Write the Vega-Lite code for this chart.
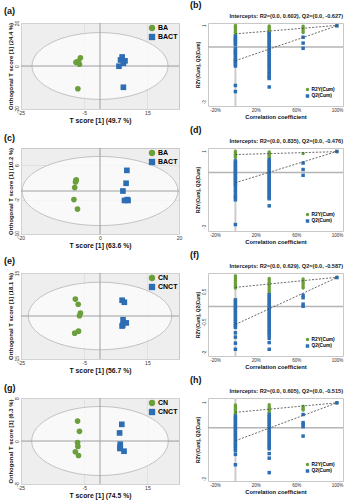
{
"$schema": "https://vega.github.io/schema/vega-lite/v6.json",
"background": "white",
"padding": {"left": 3, "top": 0, "right": 0, "bottom": 0},
"config": {
 "font": "Liberation Sans",
 "view": {"stroke": "#c8c8c8"},
 "axis": {"labelFontSize": 5, "labelColor": "#333", "titleFontWeight": "bold", "titleColor": "#111", "ticks": false, "domain": false, "labelPadding": 1.5, "titlePadding": 1.5, "gridColor": "#d8d8d8", "gridWidth": 0.6, "labelFlush": false, "labelOverlap": false},
 "axisY": {"labelAngle": 270, "labelAlign": "center", "labelBaseline": "bottom"},
 "title": {"fontSize": 9, "fontWeight": "bold", "anchor": "start", "frame": "bounds", "offset": 0, "color": "#111"},
 "legend": {"title": null, "padding": 0}
},
"datasets": {
 "sa": [{"x":-6.2,"y":3.8,"g":"BA"},{"x":-7.1,"y":2.1,"g":"BA"},{"x":-7.6,"y":1.7,"g":"BA"},{"x":-6.5,"y":0.8,"g":"BA"},{"x":-6.8,"y":2.0,"g":"BA"},{"x":-7.0,"y":-10.6,"g":"BA"},
  {"x":7.0,"y":4.2,"g":"BACT"},{"x":6.5,"y":2.8,"g":"BACT"},{"x":7.9,"y":2.4,"g":"BACT"},{"x":7.4,"y":1.3,"g":"BACT"},{"x":6.0,"y":-0.1,"g":"BACT"},{"x":7.4,"y":-9.9,"g":"BACT"}],
 "sc": [{"x":-6.0,"y":2.6,"g":"BA"},{"x":-6.2,"y":2.1,"g":"BA"},{"x":-6.1,"y":2.4,"g":"BA"},{"x":-6.4,"y":0.8,"g":"BA"},{"x":-6.6,"y":-2.0,"g":"BA"},{"x":-5.7,"y":-4.2,"g":"BA"},
  {"x":6.8,"y":4.8,"g":"BACT"},{"x":6.6,"y":1.8,"g":"BACT"},{"x":5.8,"y":0.0,"g":"BACT"},{"x":6.2,"y":-2.2,"g":"BACT"},{"x":6.9,"y":-2.0,"g":"BACT"},{"x":7.1,"y":-2.2,"g":"BACT"}],
 "se": [{"x":-7.8,"y":5.9,"g":"CN"},{"x":-6.9,"y":4.1,"g":"CN"},{"x":-6.2,"y":1.0,"g":"CN"},{"x":-6.5,"y":0.1,"g":"CN"},{"x":-6.8,"y":-5.3,"g":"CN"},{"x":-8.0,"y":-6.0,"g":"CN"},
  {"x":7.0,"y":5.5,"g":"CNCT"},{"x":7.7,"y":4.8,"g":"CNCT"},{"x":7.3,"y":-1.3,"g":"CNCT"},{"x":8.3,"y":-2.4,"g":"CNCT"},{"x":7.2,"y":-3.1,"g":"CNCT"},{"x":7.0,"y":-3.5,"g":"CNCT"}],
 "sg": [{"x":-7.1,"y":3.7,"g":"CN"},{"x":-6.5,"y":1.8,"g":"CN"},{"x":-7.1,"y":-0.3,"g":"CN"},{"x":-7.0,"y":-1.0,"g":"CN"},{"x":-7.8,"y":-2.0,"g":"CN"},{"x":-6.8,"y":-2.7,"g":"CN"},
  {"x":6.9,"y":3.1,"g":"CNCT"},{"x":6.2,"y":1.5,"g":"CNCT"},{"x":6.4,"y":-0.6,"g":"CNCT"},{"x":6.4,"y":-1.1,"g":"CNCT"},{"x":6.3,"y":-1.4,"g":"CNCT"},{"x":7.6,"y":-1.9,"g":"CNCT"}],
 "pb": [
  {"x":0,"y":0.99,"s":"R2Y(Cum)"},{"x":0,"y":0.93,"s":"R2Y(Cum)"},{"x":0,"y":0.88,"s":"R2Y(Cum)"},{"x":0,"y":0.82,"s":"R2Y(Cum)"},{"x":0,"y":0.77,"s":"R2Y(Cum)"},{"x":0,"y":0.71,"s":"R2Y(Cum)"},{"x":0,"y":0.66,"s":"R2Y(Cum)"},{"x":0,"y":0.6,"s":"R2Y(Cum)"},{"x":0,"y":0.56,"s":"R2Y(Cum)"},
  {"x":0.333,"y":0.96,"s":"R2Y(Cum)"},{"x":0.333,"y":0.9,"s":"R2Y(Cum)"},{"x":0.333,"y":0.85,"s":"R2Y(Cum)"},{"x":0.333,"y":0.79,"s":"R2Y(Cum)"},{"x":0.333,"y":0.74,"s":"R2Y(Cum)"},{"x":0.333,"y":0.68,"s":"R2Y(Cum)"},{"x":0.333,"y":0.63,"s":"R2Y(Cum)"},{"x":0.333,"y":0.58,"s":"R2Y(Cum)"},
  {"x":0.667,"y":0.95,"s":"R2Y(Cum)"},{"x":0.667,"y":0.88,"s":"R2Y(Cum)"},{"x":0.667,"y":0.8,"s":"R2Y(Cum)"},{"x":0.667,"y":0.72,"s":"R2Y(Cum)"},{"x":0.667,"y":0.66,"s":"R2Y(Cum)"},
  {"x":1,"y":0.99,"s":"R2Y(Cum)"},
  {"x":0,"y":0.49,"s":"Q2(Cum)"},{"x":0,"y":0.41,"s":"Q2(Cum)"},{"x":0,"y":0.33,"s":"Q2(Cum)"},{"x":0,"y":0.26,"s":"Q2(Cum)"},{"x":0,"y":0.18,"s":"Q2(Cum)"},{"x":0,"y":0.1,"s":"Q2(Cum)"},{"x":0,"y":-0.08,"s":"Q2(Cum)"},{"x":0,"y":-0.16,"s":"Q2(Cum)"},{"x":0,"y":-0.24,"s":"Q2(Cum)"},{"x":0,"y":-0.31,"s":"Q2(Cum)"},{"x":0,"y":-0.38,"s":"Q2(Cum)"},{"x":0,"y":-0.5,"s":"Q2(Cum)"},{"x":0,"y":-0.57,"s":"Q2(Cum)"},{"x":0,"y":-0.64,"s":"Q2(Cum)"},{"x":0,"y":-0.71,"s":"Q2(Cum)"},{"x":0,"y":-0.79,"s":"Q2(Cum)"},{"x":0,"y":-0.87,"s":"Q2(Cum)"},{"x":0,"y":-1.76,"s":"Q2(Cum)"},{"x":0,"y":-2.04,"s":"Q2(Cum)"},
  {"x":0.333,"y":0.61,"s":"Q2(Cum)"},{"x":0.333,"y":0.52,"s":"Q2(Cum)"},{"x":0.333,"y":0.44,"s":"Q2(Cum)"},{"x":0.333,"y":0.35,"s":"Q2(Cum)"},{"x":0.333,"y":0.27,"s":"Q2(Cum)"},{"x":0.333,"y":0.18,"s":"Q2(Cum)"},{"x":0.333,"y":0.1,"s":"Q2(Cum)"},{"x":0.333,"y":0.01,"s":"Q2(Cum)"},{"x":0.333,"y":-0.08,"s":"Q2(Cum)"},{"x":0.333,"y":-0.17,"s":"Q2(Cum)"},{"x":0.333,"y":-0.25,"s":"Q2(Cum)"},{"x":0.333,"y":-0.34,"s":"Q2(Cum)"},{"x":0.333,"y":-0.43,"s":"Q2(Cum)"},{"x":0.333,"y":-0.51,"s":"Q2(Cum)"},{"x":0.333,"y":-0.6,"s":"Q2(Cum)"},{"x":0.333,"y":-0.69,"s":"Q2(Cum)"},{"x":0.333,"y":-0.78,"s":"Q2(Cum)"},{"x":0.333,"y":-0.86,"s":"Q2(Cum)"},{"x":0.333,"y":-0.95,"s":"Q2(Cum)"},{"x":0.333,"y":-1.04,"s":"Q2(Cum)"},{"x":0.333,"y":-1.13,"s":"Q2(Cum)"},{"x":0.333,"y":-1.22,"s":"Q2(Cum)"},{"x":0.333,"y":-1.31,"s":"Q2(Cum)"},{"x":0.333,"y":-1.38,"s":"Q2(Cum)"},{"x":0.333,"y":-1.44,"s":"Q2(Cum)"},{"x":0.333,"y":-1.83,"s":"Q2(Cum)"},
  {"x":0.667,"y":0.45,"s":"Q2(Cum)"},{"x":0.667,"y":0.18,"s":"Q2(Cum)"},{"x":0.667,"y":-0.06,"s":"Q2(Cum)"},
  {"x":1,"y":0.97,"s":"Q2(Cum)"}],
 "pd": [
  {"x":0,"y":0.98,"s":"R2Y(Cum)"},{"x":0,"y":0.93,"s":"R2Y(Cum)"},{"x":0,"y":0.88,"s":"R2Y(Cum)"},{"x":0,"y":0.83,"s":"R2Y(Cum)"},{"x":0,"y":0.78,"s":"R2Y(Cum)"},{"x":0,"y":0.74,"s":"R2Y(Cum)"},{"x":0,"y":0.7,"s":"R2Y(Cum)"},
  {"x":0.333,"y":0.96,"s":"R2Y(Cum)"},{"x":0.333,"y":0.9,"s":"R2Y(Cum)"},{"x":0.333,"y":0.85,"s":"R2Y(Cum)"},{"x":0.333,"y":0.8,"s":"R2Y(Cum)"},{"x":0.333,"y":0.75,"s":"R2Y(Cum)"},{"x":0.333,"y":0.7,"s":"R2Y(Cum)"},
  {"x":0.667,"y":0.88,"s":"R2Y(Cum)"},
  {"x":1,"y":0.97,"s":"R2Y(Cum)"},
  {"x":0,"y":0.54,"s":"Q2(Cum)"},{"x":0,"y":0.46,"s":"Q2(Cum)"},{"x":0,"y":0.38,"s":"Q2(Cum)"},{"x":0,"y":0.3,"s":"Q2(Cum)"},{"x":0,"y":0.22,"s":"Q2(Cum)"},{"x":0,"y":0.14,"s":"Q2(Cum)"},{"x":0,"y":0.06,"s":"Q2(Cum)"},{"x":0,"y":-0.02,"s":"Q2(Cum)"},{"x":0,"y":-0.1,"s":"Q2(Cum)"},{"x":0,"y":-0.18,"s":"Q2(Cum)"},{"x":0,"y":-0.26,"s":"Q2(Cum)"},{"x":0,"y":-0.34,"s":"Q2(Cum)"},{"x":0,"y":-0.42,"s":"Q2(Cum)"},{"x":0,"y":-0.5,"s":"Q2(Cum)"},{"x":0,"y":-0.58,"s":"Q2(Cum)"},{"x":0,"y":-0.66,"s":"Q2(Cum)"},{"x":0,"y":-0.8,"s":"Q2(Cum)"},{"x":0,"y":-0.92,"s":"Q2(Cum)"},{"x":0,"y":-1.08,"s":"Q2(Cum)"},{"x":0,"y":-1.15,"s":"Q2(Cum)"},{"x":0,"y":-1.27,"s":"Q2(Cum)"},{"x":0,"y":-2.42,"s":"Q2(Cum)"},
  {"x":0.333,"y":0.6,"s":"Q2(Cum)"},{"x":0.333,"y":0.52,"s":"Q2(Cum)"},{"x":0.333,"y":0.44,"s":"Q2(Cum)"},{"x":0.333,"y":0.36,"s":"Q2(Cum)"},{"x":0.333,"y":0.28,"s":"Q2(Cum)"},{"x":0.333,"y":0.2,"s":"Q2(Cum)"},{"x":0.333,"y":0.12,"s":"Q2(Cum)"},{"x":0.333,"y":0.04,"s":"Q2(Cum)"},{"x":0.333,"y":-0.04,"s":"Q2(Cum)"},{"x":0.333,"y":-0.12,"s":"Q2(Cum)"},{"x":0.333,"y":-0.2,"s":"Q2(Cum)"},{"x":0.333,"y":-0.28,"s":"Q2(Cum)"},{"x":0.333,"y":-0.36,"s":"Q2(Cum)"},{"x":0.333,"y":-0.44,"s":"Q2(Cum)"},{"x":0.333,"y":-0.52,"s":"Q2(Cum)"},{"x":0.333,"y":-0.6,"s":"Q2(Cum)"},{"x":0.333,"y":-0.68,"s":"Q2(Cum)"},{"x":0.333,"y":-0.76,"s":"Q2(Cum)"},{"x":0.333,"y":-0.84,"s":"Q2(Cum)"},{"x":0.333,"y":-0.92,"s":"Q2(Cum)"},{"x":0.333,"y":-1.0,"s":"Q2(Cum)"},{"x":0.333,"y":-1.08,"s":"Q2(Cum)"},{"x":0.333,"y":-1.16,"s":"Q2(Cum)"},{"x":0.333,"y":-1.22,"s":"Q2(Cum)"},{"x":0.333,"y":-1.55,"s":"Q2(Cum)"},
  {"x":0.667,"y":0.44,"s":"Q2(Cum)"},{"x":0.667,"y":0.14,"s":"Q2(Cum)"},{"x":0.667,"y":-0.13,"s":"Q2(Cum)"},
  {"x":1,"y":0.98,"s":"Q2(Cum)"}],
 "pf": [
  {"x":0,"y":1.0,"s":"R2Y(Cum)"},{"x":0,"y":0.95,"s":"R2Y(Cum)"},{"x":0,"y":0.9,"s":"R2Y(Cum)"},{"x":0,"y":0.85,"s":"R2Y(Cum)"},{"x":0,"y":0.8,"s":"R2Y(Cum)"},{"x":0,"y":0.75,"s":"R2Y(Cum)"},{"x":0,"y":0.7,"s":"R2Y(Cum)"},{"x":0,"y":0.65,"s":"R2Y(Cum)"},{"x":0,"y":0.61,"s":"R2Y(Cum)"},
  {"x":0.333,"y":0.92,"s":"R2Y(Cum)"},{"x":0.333,"y":0.86,"s":"R2Y(Cum)"},{"x":0.333,"y":0.8,"s":"R2Y(Cum)"},{"x":0.333,"y":0.74,"s":"R2Y(Cum)"},{"x":0.333,"y":0.68,"s":"R2Y(Cum)"},{"x":0.333,"y":0.62,"s":"R2Y(Cum)"},{"x":0.333,"y":0.56,"s":"R2Y(Cum)"},{"x":0.333,"y":0.5,"s":"R2Y(Cum)"},{"x":0.333,"y":0.44,"s":"R2Y(Cum)"},
  {"x":0.667,"y":0.9,"s":"R2Y(Cum)"},{"x":0.667,"y":0.84,"s":"R2Y(Cum)"},{"x":0.667,"y":0.78,"s":"R2Y(Cum)"},{"x":0.667,"y":0.72,"s":"R2Y(Cum)"},{"x":0.667,"y":0.66,"s":"R2Y(Cum)"},{"x":0.667,"y":0.61,"s":"R2Y(Cum)"},
  {"x":1,"y":0.96,"s":"R2Y(Cum)"},
  {"x":0,"y":0.22,"s":"Q2(Cum)"},{"x":0,"y":0.15,"s":"Q2(Cum)"},{"x":0,"y":0.08,"s":"Q2(Cum)"},{"x":0,"y":0.01,"s":"Q2(Cum)"},{"x":0,"y":-0.06,"s":"Q2(Cum)"},{"x":0,"y":-0.13,"s":"Q2(Cum)"},{"x":0,"y":-0.2,"s":"Q2(Cum)"},{"x":0,"y":-0.27,"s":"Q2(Cum)"},{"x":0,"y":-0.34,"s":"Q2(Cum)"},{"x":0,"y":-0.41,"s":"Q2(Cum)"},{"x":0,"y":-0.48,"s":"Q2(Cum)"},{"x":0,"y":-0.55,"s":"Q2(Cum)"},{"x":0,"y":-0.62,"s":"Q2(Cum)"},{"x":0,"y":-0.68,"s":"Q2(Cum)"},{"x":0,"y":-0.86,"s":"Q2(Cum)"},{"x":0,"y":-1.0,"s":"Q2(Cum)"},{"x":0,"y":-1.2,"s":"Q2(Cum)"},{"x":0,"y":-1.4,"s":"Q2(Cum)"},
  {"x":0.333,"y":0.39,"s":"Q2(Cum)"},{"x":0.333,"y":0.32,"s":"Q2(Cum)"},{"x":0.333,"y":0.25,"s":"Q2(Cum)"},{"x":0.333,"y":0.18,"s":"Q2(Cum)"},{"x":0.333,"y":0.11,"s":"Q2(Cum)"},{"x":0.333,"y":0.04,"s":"Q2(Cum)"},{"x":0.333,"y":-0.03,"s":"Q2(Cum)"},{"x":0.333,"y":-0.1,"s":"Q2(Cum)"},{"x":0.333,"y":-0.17,"s":"Q2(Cum)"},{"x":0.333,"y":-0.24,"s":"Q2(Cum)"},{"x":0.333,"y":-0.31,"s":"Q2(Cum)"},{"x":0.333,"y":-0.38,"s":"Q2(Cum)"},{"x":0.333,"y":-0.45,"s":"Q2(Cum)"},{"x":0.333,"y":-0.52,"s":"Q2(Cum)"},{"x":0.333,"y":-0.59,"s":"Q2(Cum)"},{"x":0.333,"y":-0.66,"s":"Q2(Cum)"},{"x":0.333,"y":-0.73,"s":"Q2(Cum)"},{"x":0.333,"y":-0.8,"s":"Q2(Cum)"},{"x":0.333,"y":-0.87,"s":"Q2(Cum)"},{"x":0.333,"y":-0.94,"s":"Q2(Cum)"},{"x":0.333,"y":-1.04,"s":"Q2(Cum)"},{"x":0.333,"y":-1.18,"s":"Q2(Cum)"},{"x":0.333,"y":-1.4,"s":"Q2(Cum)"},
  {"x":0.667,"y":0.37,"s":"Q2(Cum)"},{"x":0.667,"y":0.29,"s":"Q2(Cum)"},{"x":0.667,"y":0.08,"s":"Q2(Cum)"},{"x":0.667,"y":0.01,"s":"Q2(Cum)"},
  {"x":1,"y":0.95,"s":"Q2(Cum)"}],
 "ph": [
  {"x":0,"y":0.89,"s":"R2Y(Cum)"},{"x":0,"y":0.84,"s":"R2Y(Cum)"},{"x":0,"y":0.78,"s":"R2Y(Cum)"},{"x":0,"y":0.73,"s":"R2Y(Cum)"},{"x":0,"y":0.67,"s":"R2Y(Cum)"},{"x":0,"y":0.62,"s":"R2Y(Cum)"},{"x":0,"y":0.57,"s":"R2Y(Cum)"},{"x":0,"y":0.52,"s":"R2Y(Cum)"},
  {"x":0.333,"y":0.9,"s":"R2Y(Cum)"},{"x":0.333,"y":0.84,"s":"R2Y(Cum)"},{"x":0.333,"y":0.78,"s":"R2Y(Cum)"},{"x":0.333,"y":0.72,"s":"R2Y(Cum)"},{"x":0.333,"y":0.66,"s":"R2Y(Cum)"},{"x":0.333,"y":0.6,"s":"R2Y(Cum)"},
  {"x":0.667,"y":0.85,"s":"R2Y(Cum)"},{"x":0.667,"y":0.79,"s":"R2Y(Cum)"},{"x":0.667,"y":0.74,"s":"R2Y(Cum)"},{"x":0.667,"y":0.7,"s":"R2Y(Cum)"},
  {"x":1,"y":0.98,"s":"R2Y(Cum)"},
  {"x":0,"y":0.46,"s":"Q2(Cum)"},{"x":0,"y":0.38,"s":"Q2(Cum)"},{"x":0,"y":0.3,"s":"Q2(Cum)"},{"x":0,"y":0.22,"s":"Q2(Cum)"},{"x":0,"y":0.14,"s":"Q2(Cum)"},{"x":0,"y":0.06,"s":"Q2(Cum)"},{"x":0,"y":-0.02,"s":"Q2(Cum)"},{"x":0,"y":-0.1,"s":"Q2(Cum)"},{"x":0,"y":-0.18,"s":"Q2(Cum)"},{"x":0,"y":-0.26,"s":"Q2(Cum)"},{"x":0,"y":-0.34,"s":"Q2(Cum)"},{"x":0,"y":-0.42,"s":"Q2(Cum)"},{"x":0,"y":-0.5,"s":"Q2(Cum)"},{"x":0,"y":-0.58,"s":"Q2(Cum)"},{"x":0,"y":-0.66,"s":"Q2(Cum)"},{"x":0,"y":-0.74,"s":"Q2(Cum)"},{"x":0,"y":-0.82,"s":"Q2(Cum)"},{"x":0,"y":-0.9,"s":"Q2(Cum)"},{"x":0,"y":-1.05,"s":"Q2(Cum)"},{"x":0,"y":-1.46,"s":"Q2(Cum)"},
  {"x":0.333,"y":0.52,"s":"Q2(Cum)"},{"x":0.333,"y":0.44,"s":"Q2(Cum)"},{"x":0.333,"y":0.36,"s":"Q2(Cum)"},{"x":0.333,"y":0.28,"s":"Q2(Cum)"},{"x":0.333,"y":0.2,"s":"Q2(Cum)"},{"x":0.333,"y":0.12,"s":"Q2(Cum)"},{"x":0.333,"y":0.04,"s":"Q2(Cum)"},{"x":0.333,"y":-0.04,"s":"Q2(Cum)"},{"x":0.333,"y":-0.12,"s":"Q2(Cum)"},{"x":0.333,"y":-0.2,"s":"Q2(Cum)"},{"x":0.333,"y":-0.28,"s":"Q2(Cum)"},{"x":0.333,"y":-0.36,"s":"Q2(Cum)"},{"x":0.333,"y":-0.44,"s":"Q2(Cum)"},{"x":0.333,"y":-0.52,"s":"Q2(Cum)"},{"x":0.333,"y":-0.6,"s":"Q2(Cum)"},{"x":0.333,"y":-0.68,"s":"Q2(Cum)"},{"x":0.333,"y":-0.76,"s":"Q2(Cum)"},{"x":0.333,"y":-0.83,"s":"Q2(Cum)"},{"x":0.333,"y":-1.02,"s":"Q2(Cum)"},{"x":0.333,"y":-1.2,"s":"Q2(Cum)"},{"x":0.333,"y":-1.77,"s":"Q2(Cum)"},
  {"x":0.667,"y":0.52,"s":"Q2(Cum)"},{"x":0.667,"y":0.2,"s":"Q2(Cum)"},{"x":0.667,"y":0.12,"s":"Q2(Cum)"},{"x":0.667,"y":0.04,"s":"Q2(Cum)"},{"x":0.667,"y":-0.33,"s":"Q2(Cum)"},
  {"x":1,"y":0.98,"s":"Q2(Cum)"}]
},
"spacing": 0,
"resolve": {"scale": {"color": "independent", "shape": "independent"}, "legend": {"color": "independent", "shape": "independent"}},
"vconcat": [
 {"hconcat": [
  {"width": 158, "height": 86, "title": {"text": "(a)", "dx": -3}, "view": {"fill": "#eeeeee", "stroke": "#c8c8c8"},
   "layer": [
    {"data": {"values": [{"x": 0, "y": 0}]},
     "mark": {"type": "point", "shape": "M-10,0C-10,-2.715 -5.523,-4.91 0,-4.91C5.523,-4.91 10,-2.715 10,0C10,2.715 5.523,4.91 0,4.91C-5.523,4.91 -10,2.715 -10,0Z", "size": 184.96, "filled": true, "fill": "#ffffff", "fillOpacity": 0.65, "stroke": "#c2c2c2", "strokeWidth": 1, "opacity": 1},
     "encoding": {
      "x": {"field": "x", "type": "quantitative", "scale": {"domain": [-25, 25], "nice": false, "zero": false}, "axis": {"title": "T score [1] (49.7 %)", "titleFontSize": 6.8, "labelOverlap": false, "labelFlush": false, "values": [-25,-20,-15,-10,-5,0,5,10,15,20,25], "labelExpr": "replace(datum.label, '−', '-')"}},
      "y": {"field": "y", "type": "quantitative", "scale": {"domain": [-20, 20], "nice": false, "zero": false}, "axis": {"title": "Orthogonal T score [1] (24.4 %)", "titleFontSize": 5.9, "labelOverlap": false, "labelFlush": false, "values": [-20,-15,-10,-5,0,5,10,15,20], "labelExpr": "replace(datum.label, '−', '-')"}}}},
    {"data": {"values": [{}]}, "mark": {"type": "rule", "color": "#a0a0a0", "strokeWidth": 1}, "encoding": {"x": {"datum": 0}}},
    {"data": {"values": [{}]}, "mark": {"type": "rule", "color": "#a0a0a0", "strokeWidth": 1}, "encoding": {"y": {"datum": 0}}},
    {"data": {"name": "sa"}, "mark": {"type": "point", "filled": true, "opacity": 1, "size": 32},
     "encoding": {"x": {"field": "x", "type": "quantitative"}, "y": {"field": "y", "type": "quantitative"},
      "color": {"field": "g", "type": "nominal", "scale": {"domain": ["BA", "BACT"], "range": ["#6b9f3b", "#2d6db3"]}, "legend": {"orient": "top-right", "offset": 1, "labelFontSize": 7, "labelFontWeight": "bold", "symbolSize": 40, "rowPadding": 1, "labelOffset": 2}},
      "shape": {"field": "g", "type": "nominal", "scale": {"domain": ["BA", "BACT"], "range": ["circle", "square"]}}}}
   ]},
  {"width": 135, "height": 83, "title": {"text": "(b)", "dx": -5}, "view": {"stroke": "#c8c8c8"},
   "layer": [
    {"data": {"values": [{}]}, "mark": {"type": "rule", "color": "#cccccc", "strokeWidth": 2}, "encoding": {"x": {"datum": 0}}},
    {"data": {"values": [{}]}, "mark": {"type": "rule", "color": "#b4b4b4", "strokeWidth": 1.5}, "encoding": {"y": {"datum": 0}}},
    {"data": {"name": "pb"}, "mark": {"type": "point", "filled": true, "opacity": 1, "size": 12},
     "encoding": {
      "x": {"field": "x", "type": "quantitative", "scale": {"domain": [-0.27, 1.06], "nice": false, "zero": false}, "axis": {"title": "Correlation coefficient", "titleFontSize": 5.8, "labelFontSize": 4.5, "labelOverlap": false, "labelFlush": false, "gridColor": "#e6e6e6", "values": [-0.2,0,0.2,0.4,0.6,0.8,1], "format": ".0%", "labelExpr": "replace(datum.label, '−', '-')"}},
      "y": {"field": "y", "type": "quantitative", "scale": {"domain": [-2.7, 1.1], "nice": false, "zero": false}, "axis": {"title": "R2Y(Cum), Q2(Cum)", "titleFontSize": 4.8, "labelFontSize": 4.5, "labelOverlap": false, "labelFlush": false, "gridColor": "#e6e6e6", "values": [1,0.5,0,-0.5,-1,-1.5,-2,-2.5], "format": "~g", "labelExpr": "replace(datum.label, '−', '-')"}},
      "color": {"field": "s", "type": "nominal", "scale": {"domain": ["R2Y(Cum)", "Q2(Cum)"], "range": ["#6b9f3b", "#2d6db3"]}, "legend": {"orient": "bottom-right", "offset": 8, "labelFontSize": 4.8, "labelFontWeight": "bold", "symbolSize": 12, "rowPadding": 0.5, "labelOffset": 1.5}},
      "shape": {"field": "s", "type": "nominal", "scale": {"domain": ["R2Y(Cum)", "Q2(Cum)"], "range": ["circle", "square"]}}}},
    {"data": {"values": [{"x":0,"y":0.602,"k":"R"},{"x":1,"y":0.99,"k":"R"},{"x":0,"y":-0.627,"k":"Q"},{"x":1,"y":0.97,"k":"Q"}]},
     "mark": {"type": "line", "color": "#444444", "strokeWidth": 0.8, "strokeDash": [2, 1.5]},
     "encoding": {"x": {"field": "x", "type": "quantitative"}, "y": {"field": "y", "type": "quantitative"}, "detail": {"field": "k"}}},
    {"data": {"values": [{"t": "Intercepts: R2=(0.0, 0.602), Q2=(0.0, -0.627)"}]},
     "mark": {"type": "text", "align": "right", "baseline": "middle", "fontSize": 5.6, "fontWeight": "bold", "color": "#222222"},
     "encoding": {"x": {"datum": 1.06}, "y": {"datum": 1.41}, "text": {"field": "t"}}}
   ]}
 ], "spacing": 29, "bounds": "flush", "resolve": {"scale": {"color": "independent", "shape": "independent"}, "legend": {"color": "independent", "shape": "independent"}}},
 {"hconcat": [
  {"width": 158, "height": 86, "title": {"text": "(c)", "dx": -3}, "view": {"fill": "#eeeeee", "stroke": "#c8c8c8"},
   "layer": [
    {"data": {"values": [{"x": 0, "y": 0}]},
     "mark": {"type": "point", "shape": "M-10,0C-10,-2.449 -5.523,-4.43 0,-4.43C5.523,-4.43 10,-2.449 10,0C10,2.449 5.523,4.43 0,4.43C-5.523,4.43 -10,2.449 -10,0Z", "size": 243.36, "filled": true, "fill": "#ffffff", "fillOpacity": 0.65, "stroke": "#c2c2c2", "strokeWidth": 1, "opacity": 1},
     "encoding": {
      "x": {"field": "x", "type": "quantitative", "scale": {"domain": [-20, 20], "nice": false, "zero": false}, "axis": {"title": "T score [1] (63.6 %)", "titleFontSize": 6.8, "labelOverlap": false, "labelFlush": false, "values": [-20,-15,-10,-5,0,5,10,15,20], "labelExpr": "replace(datum.label, '−', '-')"}},
      "y": {"field": "y", "type": "quantitative", "scale": {"domain": [-10, 10], "nice": false, "zero": false}, "axis": {"title": "Orthogonal T score [1] (10.2 %)", "titleFontSize": 5.9, "labelOverlap": false, "labelFlush": false, "values": [-10,-8,-6,-4,-2,0,2,4,6,8,10], "labelExpr": "replace(datum.label, '−', '-')"}}}},
    {"data": {"values": [{}]}, "mark": {"type": "rule", "color": "#a0a0a0", "strokeWidth": 1}, "encoding": {"x": {"datum": 0}}},
    {"data": {"values": [{}]}, "mark": {"type": "rule", "color": "#a0a0a0", "strokeWidth": 1}, "encoding": {"y": {"datum": 0}}},
    {"data": {"name": "sc"}, "mark": {"type": "point", "filled": true, "opacity": 1, "size": 32},
     "encoding": {"x": {"field": "x", "type": "quantitative"}, "y": {"field": "y", "type": "quantitative"},
      "color": {"field": "g", "type": "nominal", "scale": {"domain": ["BA", "BACT"], "range": ["#6b9f3b", "#2d6db3"]}, "legend": {"orient": "top-right", "offset": 1, "labelFontSize": 7, "labelFontWeight": "bold", "symbolSize": 40, "rowPadding": 1, "labelOffset": 2}},
      "shape": {"field": "g", "type": "nominal", "scale": {"domain": ["BA", "BACT"], "range": ["circle", "square"]}}}}
   ]},
  {"width": 135, "height": 83, "title": {"text": "(d)", "dx": -5}, "view": {"stroke": "#c8c8c8"},
   "layer": [
    {"data": {"values": [{}]}, "mark": {"type": "rule", "color": "#cccccc", "strokeWidth": 2}, "encoding": {"x": {"datum": 0}}},
    {"data": {"values": [{}]}, "mark": {"type": "rule", "color": "#b4b4b4", "strokeWidth": 1.5}, "encoding": {"y": {"datum": 0}}},
    {"data": {"name": "pd"}, "mark": {"type": "point", "filled": true, "opacity": 1, "size": 12},
     "encoding": {
      "x": {"field": "x", "type": "quantitative", "scale": {"domain": [-0.27, 1.06], "nice": false, "zero": false}, "axis": {"title": "Correlation coefficient", "titleFontSize": 5.8, "labelFontSize": 4.5, "labelOverlap": false, "labelFlush": false, "gridColor": "#e6e6e6", "values": [-0.2,0,0.2,0.4,0.6,0.8,1], "format": ".0%", "labelExpr": "replace(datum.label, '−', '-')"}},
      "y": {"field": "y", "type": "quantitative", "scale": {"domain": [-2.72, 1.14], "nice": false, "zero": false}, "axis": {"title": "R2Y(Cum), Q2(Cum)", "titleFontSize": 4.8, "labelFontSize": 4.5, "labelOverlap": false, "labelFlush": false, "gridColor": "#e6e6e6", "values": [1,0.5,0,-0.5,-1,-1.5,-2,-2.5], "format": "~g", "labelExpr": "replace(datum.label, '−', '-')"}},
      "color": {"field": "s", "type": "nominal", "scale": {"domain": ["R2Y(Cum)", "Q2(Cum)"], "range": ["#6b9f3b", "#2d6db3"]}, "legend": {"orient": "bottom-right", "offset": 8, "labelFontSize": 4.8, "labelFontWeight": "bold", "symbolSize": 12, "rowPadding": 0.5, "labelOffset": 1.5}},
      "shape": {"field": "s", "type": "nominal", "scale": {"domain": ["R2Y(Cum)", "Q2(Cum)"], "range": ["circle", "square"]}}}},
    {"data": {"values": [{"x":0,"y":0.835,"k":"R"},{"x":1,"y":0.97,"k":"R"},{"x":0,"y":-0.476,"k":"Q"},{"x":1,"y":0.98,"k":"Q"}]},
     "mark": {"type": "line", "color": "#444444", "strokeWidth": 0.8, "strokeDash": [2, 1.5]},
     "encoding": {"x": {"field": "x", "type": "quantitative"}, "y": {"field": "y", "type": "quantitative"}, "detail": {"field": "k"}}},
    {"data": {"values": [{"t": "Intercepts: R2=(0.0, 0.835), Q2=(0.0, -0.476)"}]},
     "mark": {"type": "text", "align": "right", "baseline": "middle", "fontSize": 5.6, "fontWeight": "bold", "color": "#222222"},
     "encoding": {"x": {"datum": 1.06}, "y": {"datum": 1.46}, "text": {"field": "t"}}}
   ]}
 ], "spacing": 29, "bounds": "flush", "resolve": {"scale": {"color": "independent", "shape": "independent"}, "legend": {"color": "independent", "shape": "independent"}}},
 {"hconcat": [
  {"width": 158, "height": 86, "title": {"text": "(e)", "dx": -3}, "view": {"fill": "#eeeeee", "stroke": "#c8c8c8"},
   "layer": [
    {"data": {"values": [{"x": 0, "y": 0}]},
     "mark": {"type": "point", "shape": "M-10,0C-10,-2.608 -5.523,-4.71 0,-4.71C5.523,-4.71 10,-2.608 10,0C10,2.608 5.523,4.71 0,4.71C-5.523,4.71 -10,2.608 -10,0Z", "size": 205.64, "filled": true, "fill": "#ffffff", "fillOpacity": 0.65, "stroke": "#c2c2c2", "strokeWidth": 1, "opacity": 1},
     "encoding": {
      "x": {"field": "x", "type": "quantitative", "scale": {"domain": [-25, 25], "nice": false, "zero": false}, "axis": {"title": "T score [1] (56.7 %)", "titleFontSize": 6.8, "labelOverlap": false, "labelFlush": false, "values": [-25,-20,-15,-10,-5,0,5,10,15,20,25], "labelExpr": "replace(datum.label, '−', '-')"}},
      "y": {"field": "y", "type": "quantitative", "scale": {"domain": [-15, 15], "nice": false, "zero": false}, "axis": {"title": "Orthogonal T score [1] (18.1 %)", "titleFontSize": 5.9, "labelOverlap": false, "labelFlush": false, "values": [-15,-10,-5,0,5,10,15], "labelExpr": "replace(datum.label, '−', '-')"}}}},
    {"data": {"values": [{}]}, "mark": {"type": "rule", "color": "#a0a0a0", "strokeWidth": 1}, "encoding": {"x": {"datum": 0}}},
    {"data": {"values": [{}]}, "mark": {"type": "rule", "color": "#a0a0a0", "strokeWidth": 1}, "encoding": {"y": {"datum": 0}}},
    {"data": {"name": "se"}, "mark": {"type": "point", "filled": true, "opacity": 1, "size": 32},
     "encoding": {"x": {"field": "x", "type": "quantitative"}, "y": {"field": "y", "type": "quantitative"},
      "color": {"field": "g", "type": "nominal", "scale": {"domain": ["CN", "CNCT"], "range": ["#6b9f3b", "#2d6db3"]}, "legend": {"orient": "top-right", "offset": 1, "labelFontSize": 7, "labelFontWeight": "bold", "symbolSize": 40, "rowPadding": 1, "labelOffset": 2}},
      "shape": {"field": "g", "type": "nominal", "scale": {"domain": ["CN", "CNCT"], "range": ["circle", "square"]}}}}
   ]},
  {"width": 135, "height": 83, "title": {"text": "(f)", "dx": -5}, "view": {"stroke": "#c8c8c8"},
   "layer": [
    {"data": {"values": [{}]}, "mark": {"type": "rule", "color": "#cccccc", "strokeWidth": 2}, "encoding": {"x": {"datum": 0}}},
    {"data": {"values": [{}]}, "mark": {"type": "rule", "color": "#b4b4b4", "strokeWidth": 1.5}, "encoding": {"y": {"datum": 0}}},
    {"data": {"name": "pf"}, "mark": {"type": "point", "filled": true, "opacity": 1, "size": 12},
     "encoding": {
      "x": {"field": "x", "type": "quantitative", "scale": {"domain": [-0.27, 1.06], "nice": false, "zero": false}, "axis": {"title": "Correlation coefficient", "titleFontSize": 5.8, "labelFontSize": 4.5, "labelOverlap": false, "labelFlush": false, "gridColor": "#e6e6e6", "values": [-0.2,0,0.2,0.4,0.6,0.8,1], "format": ".0%", "labelExpr": "replace(datum.label, '−', '-')"}},
      "y": {"field": "y", "type": "quantitative", "scale": {"domain": [-1.62, 1.1], "nice": false, "zero": false}, "axis": {"title": "R2Y(Cum), Q2(Cum)", "titleFontSize": 4.8, "labelFontSize": 4.5, "labelOverlap": false, "labelFlush": false, "gridColor": "#e6e6e6", "values": [1,0.5,0,-0.5,-1,-1.5], "format": "~g", "labelExpr": "replace(datum.label, '−', '-')"}},
      "color": {"field": "s", "type": "nominal", "scale": {"domain": ["R2Y(Cum)", "Q2(Cum)"], "range": ["#6b9f3b", "#2d6db3"]}, "legend": {"orient": "bottom-right", "offset": 8, "labelFontSize": 4.8, "labelFontWeight": "bold", "symbolSize": 12, "rowPadding": 0.5, "labelOffset": 1.5}},
      "shape": {"field": "s", "type": "nominal", "scale": {"domain": ["R2Y(Cum)", "Q2(Cum)"], "range": ["circle", "square"]}}}},
    {"data": {"values": [{"x":0,"y":0.629,"k":"R"},{"x":1,"y":0.96,"k":"R"},{"x":0,"y":-0.587,"k":"Q"},{"x":1,"y":0.95,"k":"Q"}]},
     "mark": {"type": "line", "color": "#444444", "strokeWidth": 0.8, "strokeDash": [2, 1.5]},
     "encoding": {"x": {"field": "x", "type": "quantitative"}, "y": {"field": "y", "type": "quantitative"}, "detail": {"field": "k"}}},
    {"data": {"values": [{"t": "Intercepts: R2=(0.0, 0.629), Q2=(0.0, -0.587)"}]},
     "mark": {"type": "text", "align": "right", "baseline": "middle", "fontSize": 5.6, "fontWeight": "bold", "color": "#222222"},
     "encoding": {"x": {"datum": 1.06}, "y": {"datum": 1.33}, "text": {"field": "t"}}}
   ]}
 ], "spacing": 29, "bounds": "flush", "resolve": {"scale": {"color": "independent", "shape": "independent"}, "legend": {"color": "independent", "shape": "independent"}}},
 {"hconcat": [
  {"width": 158, "height": 86, "title": {"text": "(g)", "dx": -3}, "view": {"fill": "#eeeeee", "stroke": "#c8c8c8"},
   "layer": [
    {"data": {"values": [{"x": 0, "y": 0}]},
     "mark": {"type": "point", "shape": "M-10,0C-10,-2.79 -5.523,-5.05 0,-5.05C5.523,-5.05 10,-2.79 10,0C10,2.79 5.523,5.05 0,5.05C-5.523,5.05 -10,2.79 -10,0Z", "size": 186.6, "filled": true, "fill": "#ffffff", "fillOpacity": 0.65, "stroke": "#c2c2c2", "strokeWidth": 1, "opacity": 1},
     "encoding": {
      "x": {"field": "x", "type": "quantitative", "scale": {"domain": [-25, 25], "nice": false, "zero": false}, "axis": {"title": "T score [1] (74.5 %)", "titleFontSize": 6.8, "labelOverlap": false, "labelFlush": false, "values": [-25,-20,-15,-10,-5,0,5,10,15,20,25], "labelExpr": "replace(datum.label, '−', '-')"}},
      "y": {"field": "y", "type": "quantitative", "scale": {"domain": [-8, 8], "nice": false, "zero": false}, "axis": {"title": "Orthogonal T score [1] (6.3 %)", "titleFontSize": 5.9, "labelOverlap": false, "labelFlush": false, "values": [-8,-6,-4,-2,0,2,4,6,8], "labelExpr": "replace(datum.label, '−', '-')"}}}},
    {"data": {"values": [{}]}, "mark": {"type": "rule", "color": "#a0a0a0", "strokeWidth": 1}, "encoding": {"x": {"datum": 0}}},
    {"data": {"values": [{}]}, "mark": {"type": "rule", "color": "#a0a0a0", "strokeWidth": 1}, "encoding": {"y": {"datum": 0}}},
    {"data": {"name": "sg"}, "mark": {"type": "point", "filled": true, "opacity": 1, "size": 32},
     "encoding": {"x": {"field": "x", "type": "quantitative"}, "y": {"field": "y", "type": "quantitative"},
      "color": {"field": "g", "type": "nominal", "scale": {"domain": ["CN", "CNCT"], "range": ["#6b9f3b", "#2d6db3"]}, "legend": {"orient": "top-right", "offset": 1, "labelFontSize": 7, "labelFontWeight": "bold", "symbolSize": 40, "rowPadding": 1, "labelOffset": 2}},
      "shape": {"field": "g", "type": "nominal", "scale": {"domain": ["CN", "CNCT"], "range": ["circle", "square"]}}}}
   ]},
  {"width": 135, "height": 83, "title": {"text": "(h)", "dx": -5}, "view": {"stroke": "#c8c8c8"},
   "layer": [
    {"data": {"values": [{}]}, "mark": {"type": "rule", "color": "#cccccc", "strokeWidth": 2}, "encoding": {"x": {"datum": 0}}},
    {"data": {"values": [{}]}, "mark": {"type": "rule", "color": "#b4b4b4", "strokeWidth": 1.5}, "encoding": {"y": {"datum": 0}}},
    {"data": {"name": "ph"}, "mark": {"type": "point", "filled": true, "opacity": 1, "size": 12},
     "encoding": {
      "x": {"field": "x", "type": "quantitative", "scale": {"domain": [-0.27, 1.06], "nice": false, "zero": false}, "axis": {"title": "Correlation coefficient", "titleFontSize": 5.8, "labelFontSize": 4.5, "labelOverlap": false, "labelFlush": false, "gridColor": "#e6e6e6", "values": [-0.2,0,0.2,0.4,0.6,0.8,1], "format": ".0%", "labelExpr": "replace(datum.label, '−', '-')"}},
      "y": {"field": "y", "type": "quantitative", "scale": {"domain": [-2.1, 1.17], "nice": false, "zero": false}, "axis": {"title": "R2Y(Cum), Q2(Cum)", "titleFontSize": 4.8, "labelFontSize": 4.5, "labelOverlap": false, "labelFlush": false, "gridColor": "#e6e6e6", "values": [1,0.5,0,-0.5,-1,-1.5,-2], "format": "~g", "labelExpr": "replace(datum.label, '−', '-')"}},
      "color": {"field": "s", "type": "nominal", "scale": {"domain": ["R2Y(Cum)", "Q2(Cum)"], "range": ["#6b9f3b", "#2d6db3"]}, "legend": {"orient": "bottom-right", "offset": 8, "labelFontSize": 4.8, "labelFontWeight": "bold", "symbolSize": 12, "rowPadding": 0.5, "labelOffset": 1.5}},
      "shape": {"field": "s", "type": "nominal", "scale": {"domain": ["R2Y(Cum)", "Q2(Cum)"], "range": ["circle", "square"]}}}},
    {"data": {"values": [{"x":0,"y":0.605,"k":"R"},{"x":1,"y":0.98,"k":"R"},{"x":0,"y":-0.515,"k":"Q"},{"x":1,"y":0.98,"k":"Q"}]},
     "mark": {"type": "line", "color": "#444444", "strokeWidth": 0.8, "strokeDash": [2, 1.5]},
     "encoding": {"x": {"field": "x", "type": "quantitative"}, "y": {"field": "y", "type": "quantitative"}, "detail": {"field": "k"}}},
    {"data": {"values": [{"t": "Intercepts: R2=(0.0, 0.605), Q2=(0.0, -0.515)"}]},
     "mark": {"type": "text", "align": "right", "baseline": "middle", "fontSize": 5.6, "fontWeight": "bold", "color": "#222222"},
     "encoding": {"x": {"datum": 1.06}, "y": {"datum": 1.44}, "text": {"field": "t"}}}
   ]}
 ], "spacing": 29, "bounds": "flush", "resolve": {"scale": {"color": "independent", "shape": "independent"}, "legend": {"color": "independent", "shape": "independent"}}}
]
}
